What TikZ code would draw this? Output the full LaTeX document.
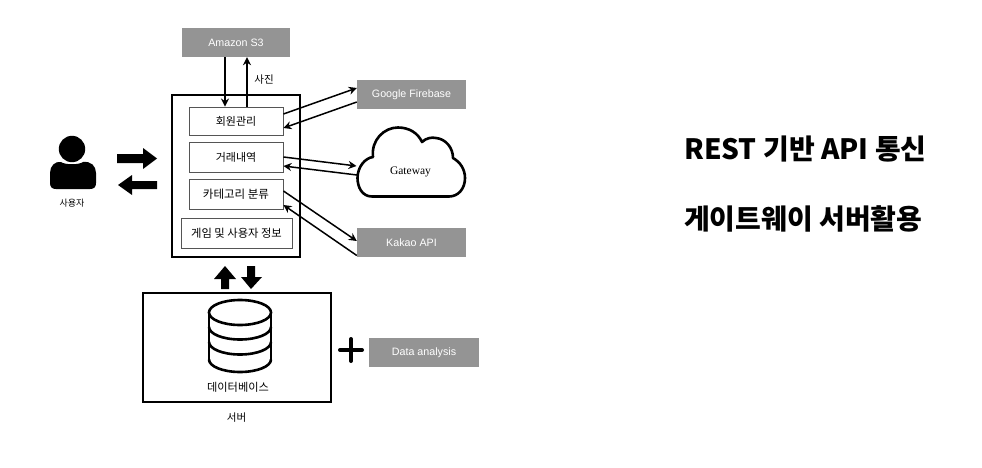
\documentclass[tikz,border=0pt]{standalone}
\usepackage{fontspec}
\setmainfont{Liberation Serif}
\newfontfamily\krfont{Noto Sans CJK KR}
\newfontfamily\helv{Liberation Sans}
\definecolor{svcgray}{HTML}{949494}
\definecolor{boxedge}{HTML}{555555}
\tikzset{
  px/.style={x=1pt,y=-1pt},
  svc/.style={fill=svcgray,draw=none,text=white,font=\helv\fontsize{10.7}{12}\selectfont,inner sep=0pt},
  modbox/.style={draw=boxedge,line width=0.9pt,fill=white,font=\krfont\fontsize{11}{12}\selectfont,inner sep=0pt},
  frame/.style={draw=black,line width=1.8pt,inner sep=0pt},
  thin arrow/.style={draw=black,line width=1.5pt,-{Stealth[length=8pt,width=8pt]}},
  block/.style={fill=black,draw=none},
  lbl/.style={font=\krfont\fontsize{9}{11}\selectfont,inner sep=0pt},
  headline/.style={font=\krfont\bfseries\fontsize{28}{32}\selectfont,inner sep=0pt,anchor=west},
}
\usetikzlibrary{arrows.meta}
\begin{document}
\begin{tikzpicture}[px]
\useasboundingbox (0,0) rectangle (982,468);
% frames
\node[frame,minimum width=128pt,minimum height=162pt] (app) at (236,176) {};
\node[frame,minimum width=188pt,minimum height=109pt] (server) at (237,347.5) {};
% service boxes
\node[svc,minimum width=108pt,minimum height=29pt] (s3) at (236,42.5) {Amazon S3};
\node[svc,minimum width=109pt,minimum height=29pt] (firebase) at (411.5,94.5) {Google Firebase};
\node[svc,minimum width=109pt,minimum height=29pt] (kakao) at (411.5,242.5) {Kakao API};
\node[svc,minimum width=110pt,minimum height=29pt] (data) at (424,352.5) {Data analysis};
% modules
\node[modbox,minimum width=94pt,minimum height=28pt] (auth) at (236,121) {회원관리};
\node[modbox,minimum width=94pt,minimum height=30pt] (trade) at (236,157) {거래내역};
\node[modbox,minimum width=94pt,minimum height=30pt,font=\krfont\fontsize{11.5}{12}\selectfont] (cat) at (236,194) {카테고리 분류};
\node[modbox,minimum width=111pt,minimum height=30pt,font=\krfont\fontsize{11.3}{12}\selectfont] (game) at (236.5,233) {게임 및 사용자 정보};
% cloud
\path[draw=black,fill=white,line width=2.6pt,line join=round]
  (372,196.5)
  .. controls (362,196.5) and (357.5,187) .. (357.5,178)
  .. controls (357.5,167) and (365,158) .. (373,157)
  .. controls (371,140) and (384,127.5) .. (398,127.5)
  .. controls (409,127.5) and (418,133) .. (422,142)
  .. controls (426,138) and (432,137) .. (436,138)
  .. controls (446,139) and (453,148) .. (453,158)
  .. controls (460,162) and (465,169) .. (465,178)
  .. controls (465,189) and (458,196.5) .. (449,196.5)
  -- cycle;
\node[font=\fontsize{11.5}{12}\selectfont,inner sep=0pt] (gw) at (410.5,172) {Gateway};
\coordinate (gwin) at (356.5,166);
\coordinate (gwout) at (357,175);
% connectors
\draw[thin arrow] ([xshift=-11pt]s3.south) -- ([xshift=-11pt]auth.north);
\draw[thin arrow] ([xshift=11pt]auth.north) -- ([xshift=11pt]s3.south);
\draw[thin arrow] ([yshift=7pt]auth.east) -- ([yshift=6.5pt]firebase.west);
\draw[thin arrow] ([yshift=-7.5pt]firebase.west) -- ([yshift=-7pt]auth.east);
\draw[thin arrow] ([yshift=0pt]trade.east) -- (gwin);
\draw[thin arrow] (gwout) -- ([yshift=-9pt]trade.east);
\draw[thin arrow] ([yshift=3pt]cat.east) -- ([yshift=1.5pt]kakao.west);
\draw[thin arrow] ([yshift=-13pt]kakao.west) -- ([yshift=-11pt]cat.east);
% labels
\node[lbl,font=\krfont\fontsize{10.5}{12}\selectfont] (photo) at (264,80) {사진};
\node[lbl,font=\krfont\fontsize{9}{10}\selectfont] (user) at (72,203) {사용자};
\node[lbl,font=\krfont\fontsize{11.2}{12}\selectfont] (dblabel) at (238,387) {데이터베이스};
\node[lbl,font=\krfont\fontsize{10.5}{12}\selectfont] (svlabel) at (236.5,418) {서버};
% user icon
\fill[black] (72,149) circle (13.2);
\path[block] (61,162)
  .. controls (65,165) and (79,165) .. (83,162)
  .. controls (91,161) and (96,166) .. (96,173)
  -- (96,183)
  .. controls (96,187) and (94,189) .. (90,189)
  -- (56,189)
  .. controls (52,189) and (50,187) .. (50,183)
  -- (50,173)
  .. controls (50,166) and (55,161) .. (61,162) -- cycle;
% block arrows
\path[block] (117,154) -- (143,154) -- (143,148) -- (157,158.5) -- (143,169) -- (143,163) -- (117,163) -- cycle;
\path[block] (157,181) -- (132,181) -- (132,175) -- (118,185) -- (132,195) -- (132,189) -- (157,189) -- cycle;
\path[block] (221,289) -- (221,279) -- (214,279) -- (225,266) -- (236,279) -- (229,279) -- (229,289) -- cycle;
\path[block] (247,266) -- (255,266) -- (255,277) -- (262,277) -- (251,289) -- (241,277) -- (247,277) -- cycle;
% database
\begin{scope}[line width=2.6pt,draw=black]
\draw (209,312.5) -- (209,360);
\draw (271,312.5) -- (271,360);
\draw (240,312.5) ellipse [x radius=31,y radius=12.5];
\draw (209,327) arc [start angle=180,end angle=360,x radius=31,y radius=-12.5];
\draw (209,342) arc [start angle=180,end angle=360,x radius=31,y radius=-12.5];
\draw (209,359.5) arc [start angle=180,end angle=360,x radius=31,y radius=-12.5];
\end{scope}
% plus
\draw[line width=4pt,line cap=round] (340,350) -- (362,350);
\draw[line width=4pt,line cap=round] (351,339) -- (351,361);
% headlines
\node[headline] (h1) at (684,149) {REST 기반 API 통신};
\node[headline] (h2) at (684,219) {게이트웨이 서버활용};
\end{tikzpicture}
\end{document}
